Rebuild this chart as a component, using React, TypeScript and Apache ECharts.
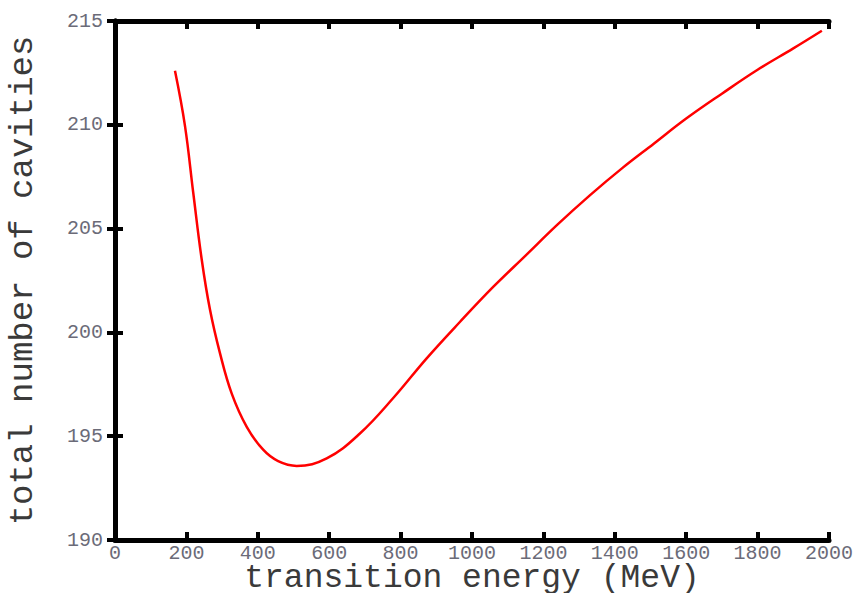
import React, { useEffect, useRef } from "react";
import * as echarts from "echarts";

const energy = [168, 196, 219, 243, 266, 294, 327, 369, 415, 457, 509, 593, 686, 780, 873, 966, 1060, 1150, 1240, 1330, 1420, 1510, 1600, 1700, 1800, 1900, 1980];
const cavities = [212.6, 209.95, 206.75, 203.5, 201.1, 199.0, 197.05, 195.45, 194.35, 193.8, 193.57, 193.93, 195.13, 196.85, 198.75, 200.5, 202.2, 203.7, 205.2, 206.6, 207.9, 209.1, 210.3, 211.5, 212.65, 213.68, 214.53];

const xName = "transition energy (MeV)";
const yName = "total number of cavities";

export default function App() {
  const ref = useRef<HTMLDivElement>(null);
  useEffect(() => {
    if (!ref.current) return;
    const chart = echarts.init(ref.current, undefined, { renderer: "svg" });
    const font = "'Liberation Mono', 'DejaVu Sans Mono', monospace";
    const axisLine = { show: true, lineStyle: { color: "#000", width: 5 } };
    const axisTick = { show: true, inside: true, length: 8, lineStyle: { color: "#000", width: 4 } };
    const labelStyle = { color: "#6b6b78", fontFamily: font, fontSize: 20, lineHeight: 17, formatter: (v: number) => String(v) };
    const nameStyle = { color: "#3a3a3a", fontFamily: font, fontSize: 33, lineHeight: 26 };
    chart.setOption({
      animation: false,
      backgroundColor: "#fff",
      grid: { left: 115, right: 33, top: 21, bottom: 53, containLabel: false, outerBoundsMode: "none" },
      xAxis: [
        {
          type: "value", min: 0, max: 2000, interval: 200, position: "bottom",
          axisLine, axisTick, splitLine: { show: false },
          axisLabel: { ...labelStyle, margin: 5, showMinLabel: true, showMaxLabel: true },
          name: xName, nameLocation: "middle", nameGap: 25, nameMoveOverlap: false, nameTextStyle: nameStyle,
        },
        {
          type: "value", min: 0, max: 2000, interval: 200, position: "top",
          axisLine, axisTick, splitLine: { show: false }, axisLabel: { show: false },
        },
      ],
      yAxis: [
        {
          type: "value", min: 190, max: 215, interval: 5, position: "left",
          axisLine, axisTick, splitLine: { show: false },
          axisLabel: { ...labelStyle, margin: 12 },
          name: yName, nameLocation: "middle", nameGap: 75, nameRotate: 90,
          nameTextStyle: { ...nameStyle, fontSize: 34, lineHeight: 34 },
        },
        {
          type: "value", min: 190, max: 215, interval: 5, position: "right",
          axisLine, axisTick, splitLine: { show: false }, axisLabel: { show: false },
        },
      ],
      series: [
        {
          type: "line",
          data: energy.map((e, i) => [e, cavities[i]]),
          showSymbol: false,
          smooth: 0.4,
          lineStyle: { color: "#ff0000", width: 2.5 },
          xAxisIndex: 0,
          yAxisIndex: 0,
        },
      ],
    });
    return () => chart.dispose();
  }, []);
  return <div ref={ref} style={{ width: 862, height: 593, position: "absolute", left: 0, top: 0 }} />;
}
